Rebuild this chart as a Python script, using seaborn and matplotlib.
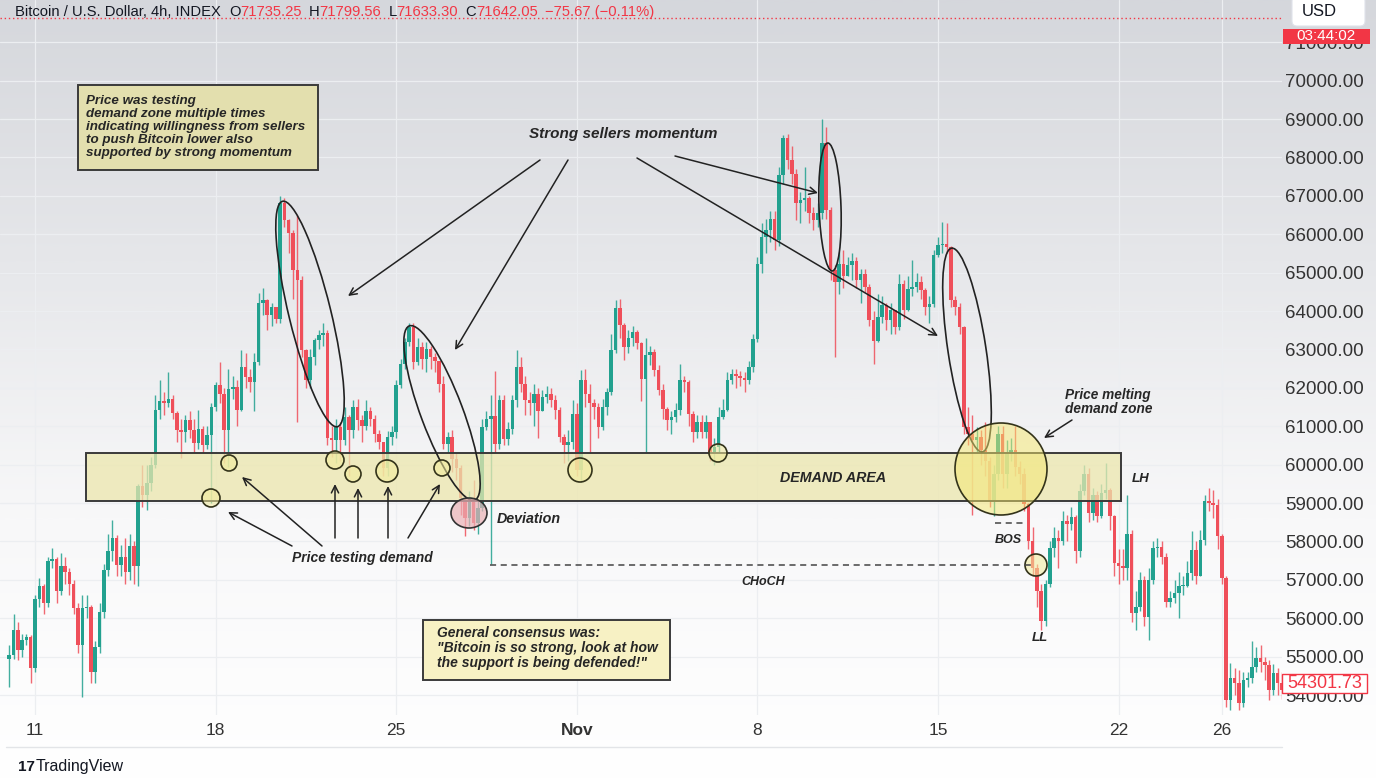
import numpy as np
import pandas as pd
import matplotlib
matplotlib.use("Agg")
import matplotlib.pyplot as plt
import seaborn as sns
from matplotlib.colors import LinearSegmentedColormap
from matplotlib.patches import Rectangle, Ellipse, Circle, FancyArrowPatch, FancyBboxPatch

# BTC/USD 4h candles from Oct 10 2021, prices in thousands of USD (open = previous close)
first_open = 54.95
closes = [
    55.05, 55.7, 55.17, 55.43, 55.5, 54.7, 56.5, 56.83, 56.4, 57.5,
    57.55, 56.7, 57.35, 57.2, 56.9, 56.26, 55.3, 56.26, 56.3, 54.6,
    55.25, 56.17, 57.26, 57.74, 58.09, 57.39, 57.6, 57.2, 57.87, 57.35,
    59.43, 59.2, 59.52, 60.0, 61.43, 61.65, 61.6, 61.7, 61.35, 60.9,
    60.85, 61.16, 60.9, 60.55, 60.94, 60.5, 60.77, 61.5, 62.07, 61.85,
    60.9, 61.98, 62.03, 61.42, 62.55, 62.29, 62.16, 62.68, 64.2, 64.29,
    63.9, 64.1, 63.8, 66.8, 66.37, 66.03, 65.07, 64.8, 62.98, 62.2,
    62.8, 63.24, 63.37, 63.42, 60.68, 60.63, 60.98, 60.63, 61.24, 60.9,
    61.5, 61.16, 61.0, 61.4, 61.19, 60.8, 60.6, 59.92, 60.71, 60.84,
    62.06, 62.63, 63.2, 63.59, 62.67, 63.07, 62.76, 63.02, 62.8, 62.7,
    62.1, 60.53, 60.73, 60.14, 59.9, 59.13, 58.61, 59.05, 58.48, 58.87,
    60.97, 61.19, 61.27, 60.53, 61.67, 60.66, 60.93, 61.67, 62.54, 62.1,
    61.67, 61.6, 61.84, 61.4, 61.77, 61.85, 61.68, 61.42, 60.72, 60.5,
    60.6, 61.33, 59.85, 62.2, 61.85, 61.6, 61.5, 60.98, 61.5, 61.9,
    62.98, 64.07, 63.63, 63.07, 63.3, 63.46, 63.16, 62.24, 62.85, 62.94,
    62.46, 61.94, 61.46, 61.16, 61.24, 61.42, 62.2, 62.15, 61.33, 60.85,
    61.11, 60.85, 61.1, 60.3, 60.46, 61.24, 61.42, 62.2, 62.35, 62.3,
    62.25, 62.2, 62.54, 63.28, 65.23, 65.93, 66.1, 66.4, 65.84, 67.54,
    68.5, 67.93, 67.58, 66.8, 66.89, 66.93, 66.54, 66.37, 66.54, 68.37,
    66.63, 65.06, 64.76, 65.23, 64.9, 65.2, 65.3, 64.8, 64.97, 64.63,
    63.76, 63.23, 63.84, 64.15, 63.76, 64.02, 63.58, 64.71, 64.02, 64.58,
    64.63, 64.76, 64.54, 64.1, 64.19, 65.45, 65.71, 65.75, 65.67, 64.28,
    64.1, 63.58, 60.97, 60.8, 60.63, 60.71, 60.37, 60.1, 59.06, 59.76,
    60.8, 59.76, 60.28, 60.37, 59.93, 59.76, 58.97, 58.02, 57.32, 56.71,
    55.93, 56.89, 57.84, 58.1, 58.02, 58.54, 58.45, 58.63, 57.76, 59.32,
    59.76, 58.74, 59.22, 58.65, 59.26, 59.35, 58.65, 57.43, 57.35, 57.3,
    58.2, 56.13, 56.3, 57.0, 56.04, 57.0, 57.83, 57.85, 57.6, 56.43,
    56.52, 56.65, 56.83, 56.85, 57.17, 57.78, 57.09, 58.04, 59.04, 59.0,
    58.95, 58.13, 57.04, 53.87, 54.43, 54.3, 53.78, 54.39, 54.43, 54.74,
    54.96, 54.87, 54.78, 54.13, 54.56, 54.3, 54.13, 54.3,
]
highs = [
    55.3, 56.1, 55.9, 55.6, 55.6, 55.55, 56.6, 57.04, 56.9, 57.6,
    57.83, 57.6, 57.7, 57.6, 57.3, 57.0, 56.4, 56.6, 56.6, 56.35,
    55.4, 56.4, 57.4, 58.2, 58.57, 58.17, 57.9, 58.1, 58.2, 58.0,
    59.5, 60.0, 60.0, 60.2, 61.8, 62.2, 61.9, 62.4, 61.8, 61.4,
    61.2, 61.3, 61.4, 61.2, 61.42, 61.0, 61.0, 61.6, 62.15, 62.68,
    62.0, 62.5, 62.3, 62.2, 62.98, 62.9, 62.5, 62.9, 64.46, 64.6,
    64.3, 64.2, 64.1, 67.0, 66.95, 66.4, 66.1, 66.5, 64.9, 63.0,
    63.0, 63.3, 63.5, 63.7, 63.5, 61.0, 61.2, 61.1, 61.5, 61.3,
    61.68, 61.7, 61.3, 61.67, 61.5, 61.3, 60.9, 60.6, 60.88, 61.0,
    62.2, 62.76, 63.3, 63.7, 63.68, 63.3, 63.2, 63.2, 63.1, 62.9,
    62.7, 62.3, 60.84, 60.9, 60.3, 60.0, 59.2, 59.3, 59.6, 59.1,
    61.2, 61.4, 61.8, 62.45, 61.8, 61.8, 61.1, 61.8, 62.98, 62.8,
    62.3, 61.9, 62.1, 62.0, 61.95, 62.05, 62.0, 61.8, 61.5, 60.8,
    60.9, 61.68, 61.6, 62.46, 62.5, 62.1, 61.7, 61.6, 61.7, 62.0,
    63.4, 64.29, 64.3, 63.7, 63.5, 63.6, 63.5, 63.2, 63.3, 63.1,
    63.0, 62.6, 62.1, 61.5, 61.4, 61.6, 62.63, 62.3, 62.2, 61.4,
    61.3, 61.3, 61.3, 61.1, 60.7, 61.5, 61.7, 62.4, 62.5, 62.5,
    62.45, 62.4, 62.7, 63.4, 65.4, 66.28, 66.4, 66.6, 66.6, 67.76,
    68.58, 68.6, 68.3, 67.7, 67.1, 67.76, 67.0, 66.7, 66.8, 69.0,
    68.8, 66.7, 65.2, 65.54, 65.58, 65.4, 65.5, 65.4, 65.1, 65.1,
    64.7, 64.0, 64.45, 64.4, 64.2, 64.2, 64.0, 64.97, 64.8, 64.9,
    65.32, 65.0, 64.9, 64.6, 64.4, 65.6, 65.93, 66.32, 66.3, 65.7,
    64.4, 64.2, 63.6, 61.5, 61.3, 60.97, 60.9, 61.1, 60.2, 60.0,
    61.0, 61.0, 60.63, 60.7, 61.0, 60.1, 59.9, 59.0, 58.37, 57.4,
    56.9, 57.0, 58.0, 58.37, 58.3, 58.8, 58.7, 58.9, 58.7, 59.5,
    60.0, 59.9, 59.4, 59.3, 59.5, 60.04, 59.4, 58.7, 57.8, 57.8,
    59.22, 58.3, 56.7, 57.2, 57.1, 57.3, 58.0, 58.1, 58.0, 57.7,
    56.7, 57.0, 57.2, 57.1, 57.5, 58.26, 58.0, 58.3, 59.2, 59.4,
    59.35, 59.1, 58.2, 57.1, 54.83, 54.7, 54.65, 54.6, 54.6, 55.4,
    55.26, 55.3, 55.0, 54.9, 54.8, 54.7, 54.6, 54.6,
]
lows = [
    54.2, 54.95, 54.9, 55.0, 55.3, 54.3, 54.6, 56.3, 56.1, 56.3,
    57.3, 56.4, 56.6, 56.9, 56.6, 56.1, 55.1, 53.96, 56.0, 54.3,
    54.3, 55.1, 56.0, 57.1, 57.5, 57.1, 57.1, 56.9, 57.0, 56.9,
    56.85, 58.9, 58.83, 59.3, 59.9, 61.2, 61.3, 61.5, 61.2, 60.6,
    60.17, 60.6, 60.7, 60.3, 60.4, 60.3, 60.4, 59.0, 61.4, 61.6,
    60.03, 59.95, 61.7, 61.0, 61.4, 62.0, 61.9, 61.4, 62.6, 63.9,
    63.5, 63.6, 63.7, 63.7, 66.2, 65.5, 64.3, 61.1, 62.8, 62.0,
    62.0, 62.6, 63.0, 63.1, 60.5, 60.2, 60.03, 60.1, 60.5, 59.7,
    60.7, 60.9, 60.6, 60.9, 61.0, 60.6, 60.4, 59.7, 59.7, 60.5,
    60.7, 62.0, 62.5, 63.1, 62.5, 62.6, 62.5, 62.4, 62.5, 62.4,
    61.9, 60.4, 60.3, 59.8, 59.6, 58.7, 58.13, 58.4, 58.3, 58.2,
    58.8, 60.9, 57.4, 60.3, 60.4, 60.5, 60.5, 60.8, 61.5, 61.9,
    61.3, 61.3, 61.0, 60.7, 61.4, 61.6, 61.5, 61.2, 60.6, 60.03,
    60.1, 60.4, 59.7, 59.55, 61.5, 60.3, 61.2, 60.7, 60.9, 61.3,
    61.8, 62.9, 63.3, 62.72, 62.9, 63.1, 63.0, 61.65, 60.29, 62.6,
    62.3, 61.8, 61.2, 60.9, 60.8, 61.1, 61.3, 61.9, 61.0, 60.6,
    60.7, 60.7, 60.7, 60.1, 60.0, 60.3, 61.2, 61.4, 62.1, 62.0,
    62.05, 61.9, 62.1, 62.4, 63.2, 65.0, 65.5, 65.8, 65.58, 65.7,
    67.3, 67.7, 67.3, 66.37, 66.3, 66.6, 66.3, 66.1, 66.2, 66.4,
    66.4, 64.8, 62.8, 64.45, 64.6, 64.9, 64.8, 64.6, 64.2, 64.5,
    63.6, 62.63, 63.2, 63.7, 63.5, 63.4, 63.4, 63.5, 63.8, 64.0,
    64.4, 64.5, 64.3, 63.9, 63.7, 64.1, 65.4, 65.5, 65.5, 64.1,
    63.9, 63.4, 60.8, 60.5, 58.7, 60.3, 60.0, 59.7, 58.9, 58.67,
    59.6, 59.4, 59.4, 60.1, 59.7, 59.5, 58.8, 57.8, 57.1, 56.3,
    55.7, 55.8, 56.8, 57.6, 57.3, 57.9, 58.0, 58.3, 57.45, 57.6,
    59.2, 58.5, 58.57, 58.5, 58.6, 59.1, 58.3, 57.1, 56.9, 57.0,
    57.0, 55.9, 55.7, 56.2, 55.8, 55.43, 56.9, 57.6, 57.4, 56.3,
    56.3, 56.4, 56.0, 56.6, 56.8, 57.0, 56.9, 57.43, 57.9, 58.8,
    58.6, 57.8, 56.9, 53.7, 53.6, 54.0, 53.6, 53.7, 54.2, 54.3,
    54.6, 54.6, 54.4, 53.87, 54.0, 54.0, 53.9, 54.0,
]

start = "2021-10-10 00:00"
date_ticks = ["2021-10-11", "2021-10-18", "2021-10-25", "2021-11-01",
              "2021-11-08", "2021-11-15", "2021-11-22", "2021-11-26"]
date_labels = ["11", "18", "25", "Nov", "8", "15", "22", "26"]
price_ticks = list(range(54000, 71001, 1000))

header_title = "Bitcoin / U.S. Dollar, 4h, INDEX"
header_ohlc = [("O", "71735.25"), ("H", "71799.56"), ("L", "71633.30"), ("C", "71642.05")]
header_change = "\u221275.67 (\u22120.11%)"
live_price = 71642.05
last_price = 54301.73
countdown = "03:44:02"

sns.set_theme(style="white")
plt.rcParams["font.family"] = ["Liberation Sans", "DejaVu Sans"]

GREEN, RED = "#22a18f", "#ef4f5a"
INK = "#131722"
NOTE = "#262626"
W, H = 1376, 781
AX_R, AX_B = 1282, 715

df = pd.DataFrame({"close": closes, "high": highs, "low": lows}) * 1000
df["open"] = df["close"].shift(1).fillna(first_open * 1000)
df["high"] = df[["high", "open", "close"]].max(axis=1)
df["low"] = df[["low", "open", "close"]].min(axis=1)
df["time"] = pd.date_range(start, periods=len(df), freq="4h")
df["x"] = np.arange(len(df))
df["up"] = df["close"] >= df["open"]

fig = plt.figure(figsize=(W / 100, H / 100), dpi=100)

# soft grey-to-white backdrop
bg = fig.add_axes([0, 0, 1, 1], zorder=-1)
cmap = LinearSegmentedColormap.from_list("tvbg", ["#d5d7dc", "#e6e7ea", "#f8f8f9", "#ffffff"])
bg.imshow(np.linspace(0, 1, 400)[:, None], aspect="auto", cmap=cmap, extent=[0, 1, 0, 1], origin="upper")
bg.set_axis_off()

ax = fig.add_axes([0, 1 - AX_B / H, AX_R / W, AX_B / H])
ax.patch.set_alpha(0)
px_per_bar = 4.3
x0 = 9.2
ax.set_xlim(-x0 / px_per_bar, (AX_R - x0) / px_per_bar)
ax.set_ylim(69000 - (AX_B - 119) / 38.4 * 1000, 69000 + 119 / 38.4 * 1000)

tick_x = [(pd.Timestamp(d) - pd.Timestamp(start)) / pd.Timedelta("4h") for d in date_ticks]
for p in price_ticks:
    ax.axhline(p, color="#eceef1", lw=0.9, zorder=1)
for t in tick_x:
    ax.axvline(t, color="#eceef1", lw=0.9, zorder=1)

col = np.where(df["up"], GREEN, RED)
ax.vlines(df["x"], df["low"], df["high"], colors=col, lw=1.0, alpha=0.85, zorder=3)
body = (df["close"] - df["open"]).abs().clip(lower=30)
ax.bar(df["x"], body, bottom=df[["open", "close"]].min(axis=1), width=0.8,
       color=col, linewidth=0, zorder=4)

ax.axhline(live_price, color="#f23645", lw=1, ls=(0, (1, 2)), zorder=2)

ax.yaxis.tick_right()
ax.set_yticks(price_ticks)
ax.set_yticklabels([f"{p:.2f}" for p in price_ticks])
ax.tick_params(axis="y", length=0, pad=2, labelsize=13.5, labelcolor="#333333")
ax.set_xticks(tick_x)
ax.set_xticklabels(date_labels)
ax.tick_params(axis="x", length=0, pad=6, labelsize=12.5, labelcolor="#333333")
for lab in ax.get_xticklabels():
    if lab.get_text() == "Nov":
        lab.set_fontweight("bold")
for s in ax.spines.values():
    s.set_visible(False)
ax.grid(False)

T = fig.dpi_scale_trans


def P(x, y):
    return (x / 100, (H - y) / 100)


def note(x, y, s, size=9.5, ha="center", va="center", **kw):
    fig.text(x / W, 1 - y / H, s, fontsize=size, ha=ha, va=va, style="italic",
             weight="bold", color=NOTE, **kw)


def arrow(xa, ya, xb, yb):
    fig.add_artist(FancyArrowPatch(P(xa, ya), P(xb, yb), transform=T, arrowstyle="->",
                                   mutation_scale=13, lw=1.1, color="#222222",
                                   shrinkA=0, shrinkB=0))


def rect(xa, ya, xb, yb, fc, alpha=1.0, lw=1.4):
    fig.add_artist(Rectangle(P(xa, yb), (xb - xa) / 100, (yb - ya) / 100, transform=T,
                             facecolor=fc, alpha=alpha, edgecolor="none"))
    fig.add_artist(Rectangle(P(xa, yb), (xb - xa) / 100, (yb - ya) / 100, transform=T,
                             facecolor="none", edgecolor="#3a3a3a", lw=lw))


def ring(x, y, r, fc="#f3ec9a", alpha=0.55, lw=1.2):
    fig.add_artist(Circle(P(x, y), r / 100, transform=T, facecolor=fc, alpha=alpha, edgecolor="none"))
    fig.add_artist(Circle(P(x, y), r / 100, transform=T, facecolor="none", edgecolor="#33331a", lw=lw))


def oval(x, y, length, width, angle):
    fig.add_artist(Ellipse(P(x, y), length / 100, width / 100, angle=angle, transform=T,
                           fill=False, edgecolor="#222222", lw=1.2))


# demand zone
rect(86, 453, 1121, 501, "#ece7ad", alpha=0.75)
note(833, 478, "DEMAND AREA", size=10.3)

# sellers momentum
oval(310, 314, 232, 42, 103.7)
oval(442, 413, 186, 42, 110.6)
oval(830, 207, 128, 22, 92)
oval(967, 350, 206, 38, 98.6)
note(623, 134, "Strong sellers momentum", size=11)
arrow(540, 160, 348, 296)
arrow(568, 160, 455, 350)
arrow(675, 156, 818, 193)
arrow(637, 158, 938, 336)

# demand tests
for (cx, cy, r) in [(211, 498, 9), (229, 463, 8), (335, 460, 9), (353, 474, 8),
                    (387, 471, 11), (442, 468, 8), (580, 470, 12), (718, 453, 9)]:
    ring(cx, cy, r)
note(362, 558, "Price testing demand", size=10)
arrow(292, 546, 228, 512)
arrow(322, 546, 242, 477)
arrow(335, 538, 335, 484)
arrow(358, 538, 358, 488)
arrow(388, 538, 388, 486)
arrow(408, 538, 440, 484)

# deviation
fig.add_artist(Ellipse(P(469, 513), 0.36, 0.30, transform=T, facecolor="#eab2b6", alpha=0.7, edgecolor="none"))
fig.add_artist(Ellipse(P(469, 513), 0.36, 0.30, transform=T, facecolor="none", edgecolor="#333333", lw=1.2))
note(497, 519, "Deviation", size=10.3, ha="left")

# change of character / break of structure
fig.add_artist(plt.Line2D([490 / W, 1032 / W], [1 - 565 / H, 1 - 565 / H], transform=fig.transFigure,
                          color="#444444", lw=1.1, ls=(0, (4, 3))))
note(763, 582, "CHoCH", size=9)
ring(1036, 565, 11)
fig.add_artist(plt.Line2D([995 / W, 1026 / W], [1 - 523 / H, 1 - 523 / H], transform=fig.transFigure,
                          color="#444444", lw=1.1, ls=(0, (4, 3))))
note(1008, 540, "BOS", size=9)
ring(1001, 469, 46, fc="#f4e86e", alpha=0.5)
note(1065, 402, "Price melting\ndemand zone", size=9.8, ha="left", linespacing=1.0)
arrow(1072, 420, 1044, 438)
note(1141, 479, "LH", size=9.5)
note(1040, 638, "LL", size=9.5)

# text boxes
rect(78, 85, 318, 170, "#e3dfae")
note(86, 95, "Price was testing\ndemand zone multiple times\nindicating willingness from sellers\n"
     "to push Bitcoin lower also\nsupported by strong momentum", size=9.6, ha="left", va="top",
     linespacing=1.1)
rect(423, 620, 670, 680, "#f7f1c4")
note(437, 626, "General consensus was:\n\"Bitcoin is so strong, look at how\nthe support is being defended!\"",
     size=10, ha="left", va="top", linespacing=1.1)

# header line
renderer = fig.canvas.get_renderer()
hx = 15
pieces = [(header_title, INK, 8)]
for k, v in header_ohlc:
    pieces += [(k, INK, 0), (v, "#f23645", 7)]
pieces += [(header_change, "#f23645", 0)]
for s, c, gap in pieces:
    t = fig.text(hx / W, 1 - 12 / H, s, color=c, fontsize=10.6, ha="left", va="center")
    hx += t.get_window_extent(renderer=renderer).width + gap

# price scale badges
fig.add_artist(FancyBboxPatch(P(1292, 26), 0.73, 0.3, transform=T, boxstyle="round,pad=0,rounding_size=0.05",
                              facecolor="white", edgecolor="#e0e3eb", lw=0.8))
fig.text(1302 / W, 1 - 12 / H, "USD", fontsize=12, color=INK, ha="left", va="center")
fig.add_artist(Rectangle(P(1283, 44), 0.87, 0.15, transform=T, facecolor="#f23645", edgecolor="none"))
fig.text(1326 / W, 1 - 36 / H, countdown, fontsize=11, color="white", ha="center", va="center")
fig.add_artist(Rectangle(P(1282, 693), 0.85, 0.19, transform=T, facecolor="white", edgecolor="#f23645", lw=1))
fig.text(1325 / W, 1 - 683 / H, f"{last_price:.2f}", fontsize=13, color="#f23645", ha="center", va="center")

# pane border and footer
fig.add_artist(plt.Line2D([6 / W, AX_R / W], [1 - 747 / H, 1 - 747 / H], transform=fig.transFigure,
                          color="#e3e5e8", lw=1))
fig.text(18 / W, 1 - 767 / H, "17", fontsize=11, weight="heavy", color=INK, ha="left", va="center")
fig.text(36 / W, 1 - 767 / H, "TradingView", fontsize=11.5, color=INK, ha="left", va="center")

fig.savefig("out.png", dpi=100)
